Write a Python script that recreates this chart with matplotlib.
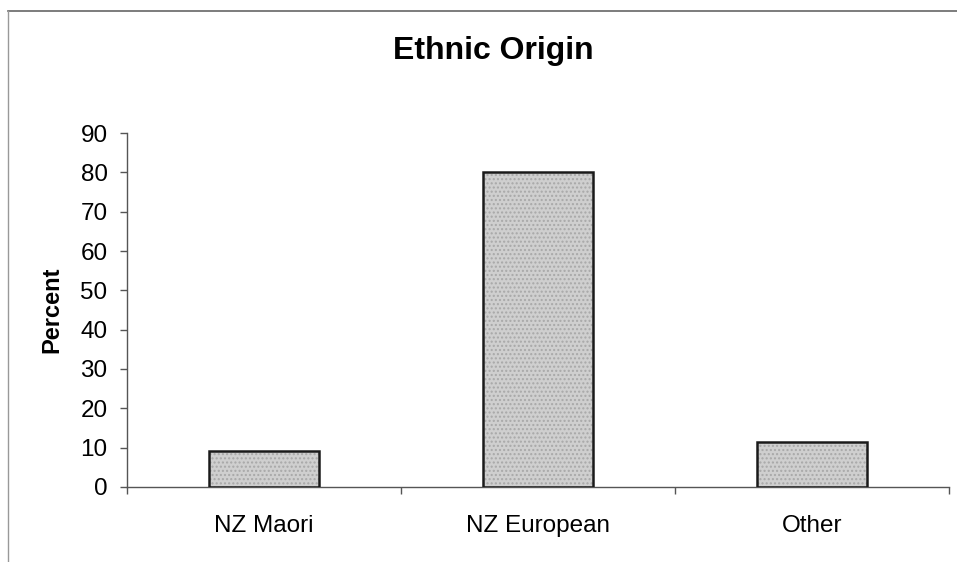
import matplotlib
matplotlib.use('Agg')
import matplotlib.pyplot as plt
from matplotlib.lines import Line2D

categories = ['NZ Maori', 'NZ European', 'Other']
percent = [9.2, 80, 11.4]
yticks = [0, 10, 20, 30, 40, 50, 60, 70, 80, 90]

plt.rcParams['font.family'] = ['Liberation Sans', 'DejaVu Sans']

fig = plt.figure(figsize=(9.57, 5.62), dpi=100)
ax = fig.add_axes([0.1327, 0.1335, 0.8589, 0.6298])

x = list(range(len(categories)))
# fill with a speckle-like hatch, then the black outline on top
ax.bar(x, percent, width=0.40, color='#cfcfcf', edgecolor='#a8a8a8',
       hatch='....', linewidth=0, zorder=2)
ax.bar(x, percent, width=0.40, fill=False, edgecolor='#1a1a1a',
       linewidth=1.8, zorder=3)

ax.set_xlim(-0.5, len(categories) - 0.5)
ax.set_ylim(0, 90)
ax.set_yticks(yticks)
ax.tick_params(axis='y', labelsize=17.5, length=5, width=1, color='#555555', pad=9)

# category boundaries get tick marks, labels sit at the centres
ax.set_xticks([i - 0.5 for i in range(len(categories) + 1)])
ax.set_xticklabels([])
ax.tick_params(axis='x', which='major', length=5, width=1, color='#555555')
ax.set_xticks(x, minor=True)
ax.set_xticklabels(categories, minor=True)
ax.tick_params(axis='x', which='minor', length=0, labelsize=17.5, pad=20)

for side in ['top', 'right']:
    ax.spines[side].set_visible(False)
for side in ['left', 'bottom']:
    ax.spines[side].set_color('#555555')
    ax.spines[side].set_linewidth(1)

ax.set_ylabel('Percent', fontsize=17, fontweight='bold', labelpad=12)
fig.text(493 / 957, 1 - 51 / 562, 'Ethnic Origin', fontsize=23,
         fontweight='bold', ha='center', va='center')

# outer chart frame (top and left edges only)
fig.add_artist(Line2D([8 / 957, 1], [1 - 11 / 562, 1 - 11 / 562],
                      transform=fig.transFigure, color='#666666', linewidth=1.2))
fig.add_artist(Line2D([8 / 957, 8 / 957], [0, 1 - 11 / 562],
                      transform=fig.transFigure, color='#999999', linewidth=1.0))

fig.savefig('out.png', dpi=100)
